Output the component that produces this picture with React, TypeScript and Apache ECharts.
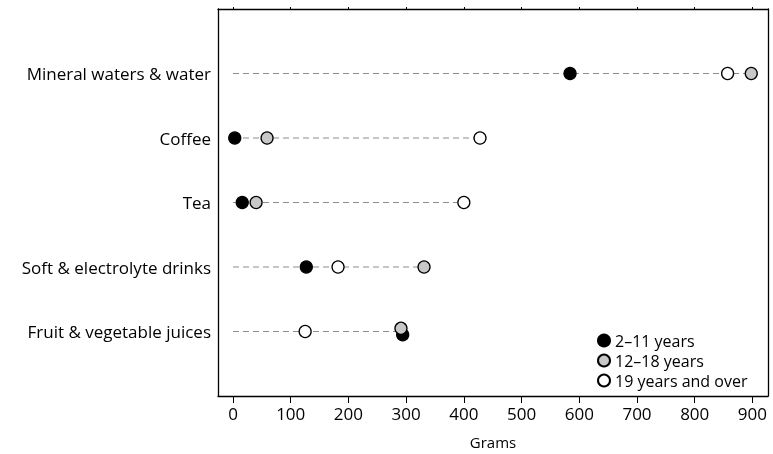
import React, { useEffect, useRef } from "react";
import * as echarts from "echarts";

const categories = ["Fruit & vegetable juices", "Soft & electrolyte drinks", "Tea", "Coffee", "Mineral waters & water"];
const rowPos = [1, 2, 3, 4, 5];
const seriesNames = ["2–11 years", "12–18 years", "19 years and over"];
const kids = [294, 127, 16, 3, 584];
const teens = [291, 331, 40, 59, 898];
const adults = [125, 182, 400, 428, 857];
// small vertical offsets where points overlap in the original
const kidsOffset = [-0.05, 0, 0, 0, 0];
const teensOffset = [0.05, 0, 0, 0, 0];
const xTicks = [0, 100, 200, 300, 400, 500, 600, 700, 800, 900];

const FONT = "Open Sans";

export default function App() {
  const ref = useRef<HTMLDivElement>(null);
  useEffect(() => {
    const chart = echarts.init(ref.current!, null, { renderer: "svg" });
    const dashSeries = categories.map((c, i) => ({
      type: "line",
      name: "dash" + i,
      data: [
        [0, rowPos[i]],
        [Math.max(kids[i], teens[i], adults[i]), rowPos[i]],
      ],
      symbol: "none",
      silent: true,
      z: 1,
      lineStyle: { color: "#8c8c8c", width: 1.2, type: [6, 4] },
    }));
    const mk = (name: string, vals: number[], off: number[], fill: string) => ({
      type: "scatter",
      name,
      data: vals.map((v, i) => [v, rowPos[i] + off[i]]),
      symbol: "circle",
      symbolSize: 12,
      z: 3,
      itemStyle: { color: fill, borderColor: "#000", borderWidth: 1.3, opacity: 1 },
    });
    const xBase = {
      type: "value",
      min: -26,
      max: 927,
      splitLine: { show: false },
      axisLine: { show: true, onZero: false, lineStyle: { color: "#000", width: 1.3 } },
    };
    chart.setOption({
      animation: false,
      textStyle: { fontFamily: FONT },
      grid: { left: 218, right: 5, top: 9, bottom: 52, containLabel: false },
      legend: {
        data: seriesNames,
        orient: "vertical",
        left: 592,
        top: 327,
        itemGap: 3,
        itemWidth: 12,
        itemHeight: 12,
        icon: "circle",
        textStyle: { fontFamily: FONT, fontSize: 16, lineHeight: 17, color: "#000" },
      },
      xAxis: [
        {
          ...xBase,
          position: "bottom",
          name: "Grams",
          nameLocation: "middle",
          nameGap: 38,
          nameTextStyle: { fontFamily: FONT, fontSize: 15, color: "#000" },
          axisTick: { show: true, inside: false, length: 7, customValues: xTicks, lineStyle: { color: "#000" } },
          axisLabel: { customValues: xTicks, fontFamily: FONT, fontSize: 17, color: "#000", margin: 9 },
        },
        {
          ...xBase,
          position: "top",
          axisTick: { show: true, inside: false, length: 2, customValues: xTicks, lineStyle: { color: "#000" } },
          axisLabel: { show: false },
        },
      ],
      yAxis: [
        {
          type: "value",
          min: 0,
          max: 6,
          position: "left",
          splitLine: { show: false },
          axisLine: { show: true, onZero: false, lineStyle: { color: "#000", width: 1.3 } },
          axisTick: { show: false },
          axisLabel: {
            customValues: rowPos,
            formatter: (v: number) => categories[rowPos.indexOf(v)] ?? "",
            fontFamily: FONT,
            fontSize: 17,
            color: "#000",
            margin: 7,
          },
        },
        {
          type: "value",
          min: 0,
          max: 6,
          position: "right",
          splitLine: { show: false },
          axisLine: { show: true, onZero: false, lineStyle: { color: "#000", width: 1.3 } },
          axisTick: { show: false },
          axisLabel: { show: false },
        },
      ],
      series: [
        ...dashSeries,
        mk(seriesNames[0], kids, kidsOffset, "#000"),
        mk(seriesNames[1], teens, teensOffset, "#c8c8c8"),
        mk(seriesNames[2], adults, [0, 0, 0, 0, 0], "#fff"),
      ],
    });
    return () => chart.dispose();
  }, []);
  return <div ref={ref} style={{ position: "fixed", left: 0, top: 0, width: 773, height: 454 }} />;
}
